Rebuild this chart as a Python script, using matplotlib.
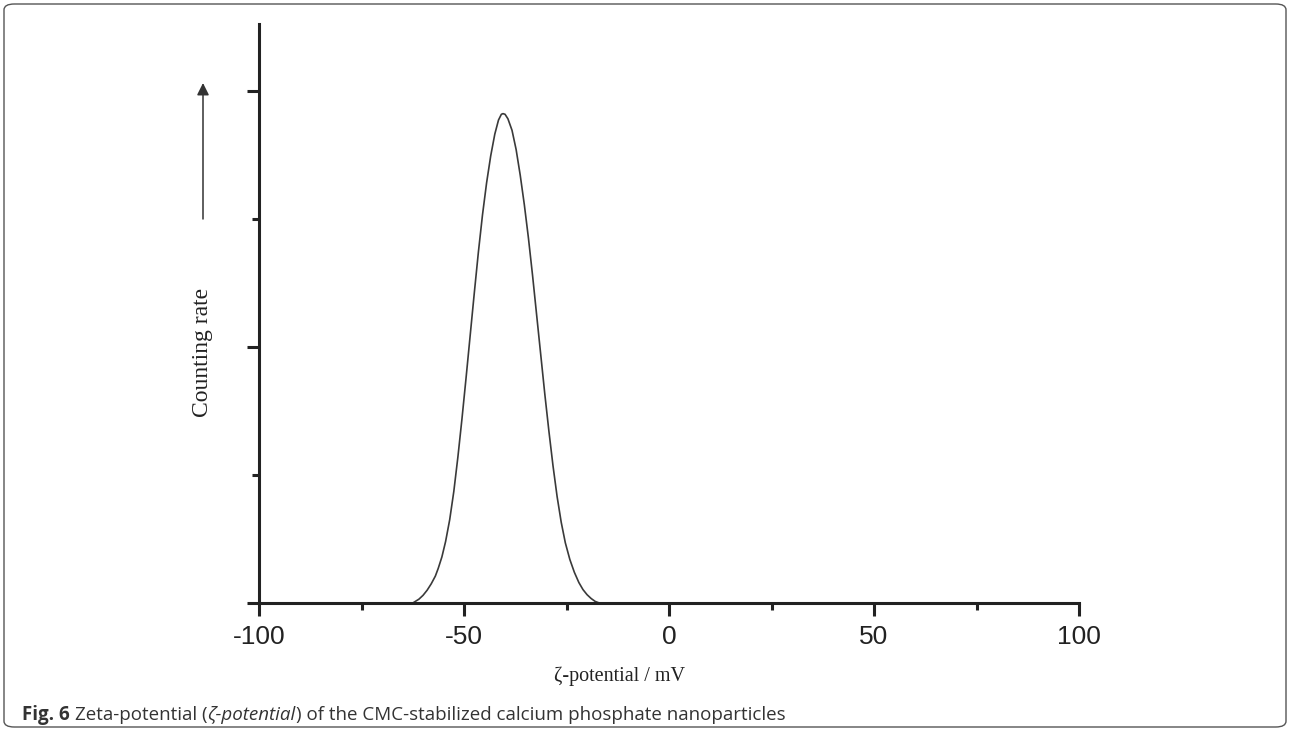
# -*- coding: utf-8 -*-
# Zeta-potential distribution (Fig. 6)

import matplotlib
matplotlib.use('Agg')
import matplotlib.pyplot as plt
from matplotlib.patches import FancyBboxPatch

# Datos (mV, unidades arbitrarias)
potencial_mv = [-62.5, -61.0, -60.0, -59.0, -58.0, -57.0, -56.3, -55.4, -54.5,
                -53.5, -52.5, -51.5, -50.5, -49.5, -48.5, -47.5, -46.5, -45.5,
                -44.5, -43.5, -42.5, -41.6, -40.9, -40.5, -40.0, -39.3, -38.3,
                -37.3, -36.3, -35.3, -34.3, -33.3, -32.3, -31.3, -30.3, -29.3,
                -28.3, -27.3, -26.3, -25.3, -24.2, -23.1, -22.0, -21.0, -20.0,
                -19.0, -18.0, -17.0]
tasa_conteo = [0.00, 0.03, 0.06, 0.10, 0.15, 0.21, 0.27, 0.36, 0.48,
               0.65, 0.87, 1.14, 1.44, 1.76, 2.09, 2.42, 2.74, 3.03,
               3.28, 3.49, 3.66, 3.77, 3.815, 3.82, 3.815, 3.78, 3.69,
               3.54, 3.34, 3.11, 2.85, 2.56, 2.25, 1.94, 1.63, 1.34,
               1.07, 0.83, 0.63, 0.47, 0.34, 0.24, 0.16, 0.105, 0.065,
               0.035, 0.012, 0.00]

ticks_x = [-100, -50, 0, 50, 100]
ticks_x_menores = [-75, -25, 25, 75]
ticks_y = [2, 4]
ticks_y_menores = [1, 3]

fig = plt.figure(figsize=(12.9, 7.31), dpi=100)
ax = fig.add_axes([0.2008, 0.1751, 0.6357, 0.7921])

ax.plot(potencial_mv, tasa_conteo, color='#3a3a3a', lw=1.2)

ax.set_xlim(-100, 100)
ax.set_ylim(0, 4.52)
ax.set_xticks(ticks_x)
ax.set_xticks(ticks_x_menores, minor=True)
ax.set_yticks([0] + ticks_y)
ax.set_yticks(ticks_y_menores, minor=True)
ax.set_yticklabels([])
ax.set_xticklabels([str(t) for t in ticks_x], fontsize=19, family='Liberation Sans', color='#222222')

for lado in ['top', 'right']:
    ax.spines[lado].set_visible(False)
for lado in ['left', 'bottom']:
    ax.spines[lado].set_linewidth(2.2)
    ax.spines[lado].set_color('#222222')

ax.tick_params(axis='both', which='major', direction='out', length=9, width=2.2, color='#222222', pad=7)
ax.tick_params(axis='both', which='minor', direction='out', length=5, width=2.2, color='#222222')

# Etiquetas de los ejes
fig.text(620 / 1290, 1 - 676 / 731, 'ζ-potential / mV', ha='center', va='center',
         fontsize=14.5, family='Liberation Serif', color='#222222')
fig.text(202 / 1290, 1 - 352 / 731, 'Counting rate', ha='center', va='center',
         rotation=90, fontsize=17, family='Liberation Serif', color='#222222')

# Flecha hacia arriba
fig.add_artist(plt.Annotation('', xy=(203 / 1290, 1 - 83 / 731), xytext=(203 / 1290, 1 - 219 / 731),
                              xycoords='figure fraction', textcoords='figure fraction',
                              arrowprops=dict(arrowstyle='-|>', color='#333333', lw=1.1,
                                              mutation_scale=18, shrinkA=0, shrinkB=0)))

# Pie de figura, en trozos
y_pie = 1 - 715 / 731
pie = fig.text(22 / 1290, y_pie, 'Fig. 6', ha='left', va='center',
               fontsize=13.5, family='Open Sans', weight='bold', color='#333333')
fig.canvas.draw()
bb = pie.get_window_extent()
t1 = fig.text((bb.x1 + 5) / 1290, y_pie, 'Zeta-potential (', ha='left', va='center',
              fontsize=13.5, family='Open Sans', color='#333333')
fig.canvas.draw()
bb = t1.get_window_extent()
t2 = fig.text(bb.x1 / 1290, y_pie, 'ζ-potential', ha='left', va='center',
              fontsize=13.5, family='Open Sans', style='italic', color='#333333')
fig.canvas.draw()
bb = t2.get_window_extent()
fig.text(bb.x1 / 1290, y_pie, ') of the CMC-stabilized calcium phosphate nanoparticles',
         ha='left', va='center', fontsize=13.5, family='Open Sans', color='#333333')

# Marco redondeado
marco = FancyBboxPatch((4 / 1290, 4 / 731), 1282 / 1290, 723 / 731,
                       boxstyle='round,pad=0,rounding_size=0.008',
                       transform=fig.transFigure, fill=False, edgecolor='#555555', lw=1.0)
fig.add_artist(marco)

fig.savefig('out.png', dpi=100)
